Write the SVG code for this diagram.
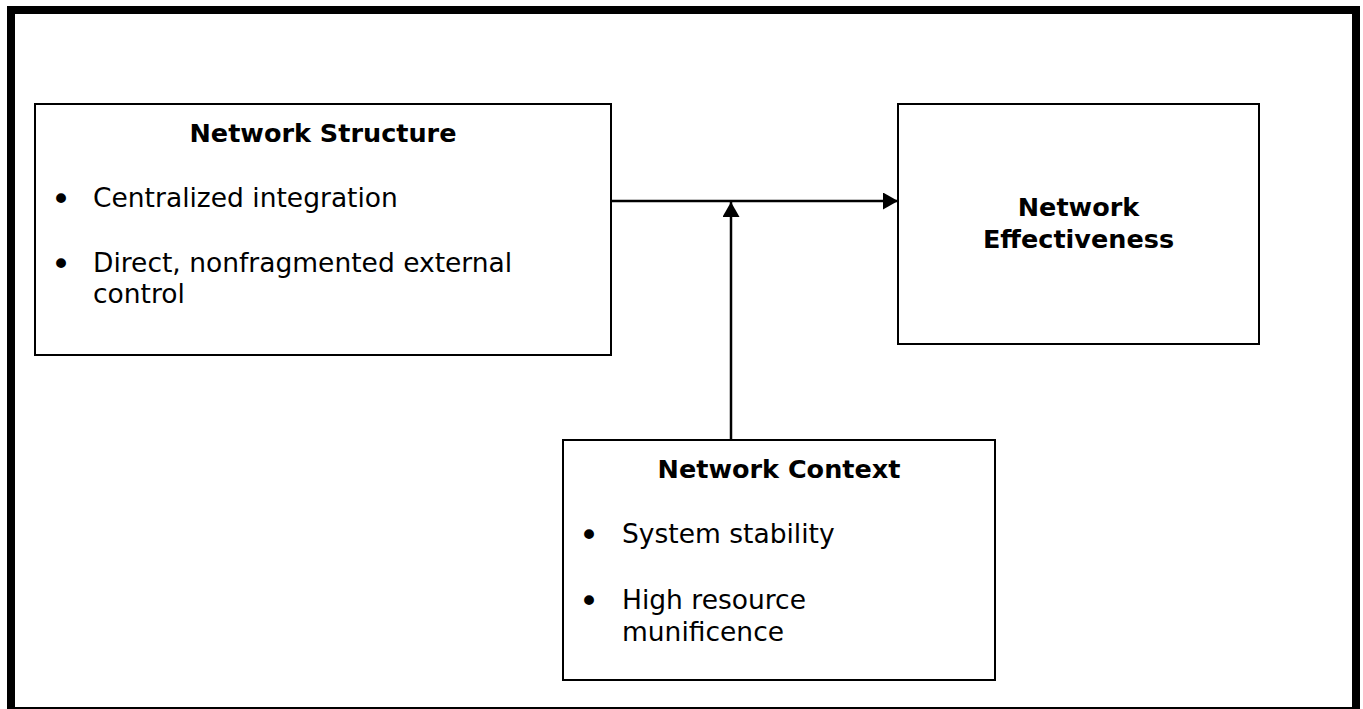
<svg xmlns="http://www.w3.org/2000/svg" width="1363" height="709" viewBox="0 0 1363 709">
<style>
.box{fill:#fff;stroke:#000;stroke-width:2}
.title{font-family:"DejaVu Sans",Verdana,sans-serif;font-weight:bold;font-size:25.5px;fill:#000}
.item{font-family:"DejaVu Sans",Verdana,sans-serif;font-size:26.5px;fill:#000}
.bullet{font-family:"DejaVu Sans",Verdana,sans-serif;font-size:34px;fill:#000;text-anchor:middle}
.conn{stroke:#000;stroke-width:2.5;fill:none}
</style>
<defs>
<marker id="arrow" markerUnits="userSpaceOnUse" markerWidth="16" markerHeight="18" refX="15" refY="8.5" orient="auto">
<path d="M0,0 L15,8.5 L0,17 Z" fill="#000"/>
</marker>
</defs>
<rect x="0" y="0" width="1363" height="709" fill="#fff"/>
<rect x="11" y="10" width="1345" height="701" fill="none" stroke="#000" stroke-width="8"/>
<g id="network-structure">
<rect class="box" x="35" y="104" width="576" height="251"/>
<text class="title" x="323" y="142" text-anchor="middle">Network Structure</text>
<text class="bullet" x="61" y="211">•</text>
<text class="item" x="93" y="207">Centralized integration</text>
<text class="bullet" x="61" y="276">•</text>
<text class="item" x="93" y="272">Direct, nonfragmented external</text>
<text class="item" x="93" y="303">control</text>
</g>
<g id="network-effectiveness">
<rect class="box" x="898" y="104" width="361" height="240"/>
<text class="title" x="1078.5" y="216" text-anchor="middle">Network</text>
<text class="title" x="1078.5" y="248" text-anchor="middle">Effectiveness</text>
</g>
<g id="network-context">
<rect class="box" x="563" y="440" width="432" height="240"/>
<text class="title" x="779" y="478" text-anchor="middle">Network Context</text>
<text class="bullet" x="589" y="547">•</text>
<text class="item" x="622" y="543">System stability</text>
<text class="bullet" x="589" y="613">•</text>
<text class="item" x="622" y="609">High resource</text>
<text class="item" x="622" y="641">munificence</text>
</g>
<g id="connectors">
<line class="conn" x1="611" y1="201" x2="898" y2="201" marker-end="url(#arrow)"/>
<line class="conn" x1="731" y1="440" x2="731" y2="202" marker-end="url(#arrow)"/>
</g>
</svg>
